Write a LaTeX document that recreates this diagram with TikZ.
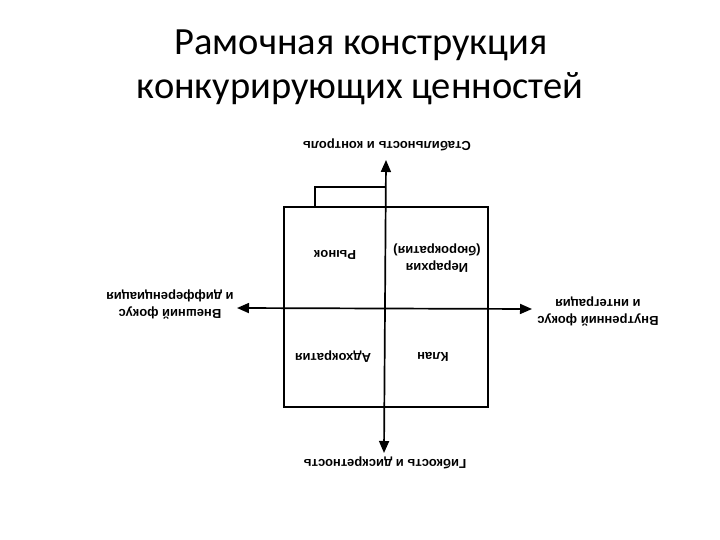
\documentclass[tikz,border=0pt]{standalone}
\usepackage{fontspec}
\setmainfont{Carlito}
\newfontfamily\diagfont{Liberation Sans}
\usetikzlibrary{arrows.meta}
\tikzset{
  axis/.style={line width=1.7pt, {Triangle[length=12pt,width=10pt]}-{Triangle[length=12pt,width=10pt]}},
  frame/.style={line width=1.7pt},
  lbl/.style={rotate=180, font=\diagfont\bfseries\fontsize{13}{17}\selectfont, align=center, inner sep=0pt},
  title/.style={font=\fontsize{38.5}{44}\selectfont, anchor=base, inner sep=0pt}
}
\begin{document}
\begin{tikzpicture}[x=1pt,y=-1pt]
\useasboundingbox[fill=white] (0,0) rectangle (720,540);
\node[title] (ttl1) at (361,55) {Рамочная конструкция};
\node[title] (ttl2) at (360,99) {конкурирующих ценностей};
% box
\coordinate (b1) at (284,207);
\coordinate (b2) at (488,407);
\draw[frame] (b1) rectangle (b2);
\coordinate (t1) at (315,207);
\coordinate (t2) at (315,187);
\coordinate (t3) at (386,187);
\draw[frame] (t1) -- (t2) -- (t3);
% axes
\coordinate (vtop) at (386,160);
\coordinate (vbot) at (384,453);
\coordinate (hl) at (237,308);
\coordinate (hr) at (532,309);
\draw[axis] (vbot) -- (vtop);
\draw[axis] (hl) -- (hr);
% axis labels
\node[lbl] (stab) at (387,145) {Стабильность и контроль};
\node[lbl] (flex) at (385,463) {Гибкость и дискретность};
\node[lbl] (ext) at (170,304) {Внешний фокус\\и дифференциация};
\node[lbl] (int) at (598,311) {Внутренний фокус\\и интеграция};
% quadrant labels
\node[lbl] (mkt) at (335,255) {Рынок};
\node[lbl] (hier) at (437,258) {Иерархия\\(бюрократия)};
\node[lbl] (adh) at (333,357) {Адхократия};
\node[lbl] (clan) at (433,357) {Клан};
\end{tikzpicture}
\end{document}
